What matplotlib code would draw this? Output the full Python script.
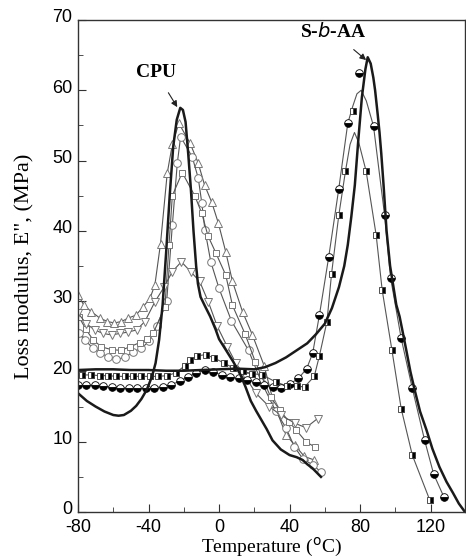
import matplotlib
matplotlib.use("Agg")
import matplotlib.pyplot as plt
import matplotlib.transforms as mtransforms
from matplotlib.ticker import MultipleLocator

plt.rcParams["axes.unicode_minus"] = False

# CPU thick curve
cpu_x = [-80, -75, -70, -65, -60, -57, -54, -50, -47, -44, -41, -38, -36, -34, -32, -30, -28, -26, -24,
         -22, -20.5, -19, -17.5, -16, -14.5, -13, -12, -10.5, -8, -5, -2, 0, 4, 8, 12, 15, 18, 21, 24,
         27, 30.3, 35, 40, 44, 47.4, 50, 53.1, 57.8]
cpu_y = [16.9, 15.8, 15.0, 14.3, 13.8, 13.7, 13.8, 14.4, 15.1, 16.1, 17.4, 19.3, 21.2, 24.5, 29.5, 37.0,
         45.0, 52.0, 55.8, 57.5, 57.2, 55.5, 51.0, 46.0, 40.0, 35.0, 32.5, 30.6, 29.3, 27.8, 26.0, 24.6,
         23.0, 21.4, 19.6, 17.8, 15.8, 14.4, 13.1, 11.8, 10.2, 8.9, 8.1, 7.8, 7.4, 6.8, 6.2, 5.0]

# S-b-AA thick curve
sbaa_x = [-80, -70, -60, -50, -40, -30, -20, -10, 0, 10, 20, 26, 32, 38, 44, 50, 55, 60, 64, 68, 71, 73,
          75, 77, 79, 81, 83, 84.3, 86, 87.5, 88.5, 90, 91, 92, 93.3, 95, 97, 98.6, 100.5, 102.4, 104,
          106.2, 108.5, 110.9, 114, 117.6, 121, 125, 129, 132.7, 136, 139.5]
sbaa_y = [20.2, 20.3, 20.3, 20.2, 20.2, 20.1, 20.1, 20.2, 20.3, 20.4, 20.3, 20.6, 21.2, 22.0, 23.0, 24.0,
          25.3, 26.8, 29.0, 32.0, 35.0, 38.0, 42.0, 46.5, 53.0, 59.0, 63.0, 64.7, 63.8, 61.8, 60.0, 56.5,
          54.0, 51.0, 46.5, 40.0, 35.0, 32.5, 29.5, 27.8, 25.8, 23.0, 20.0, 17.4, 14.3, 11.7, 9.0, 6.4,
          4.3, 2.7, 1.2, 0.0]

# half-filled circles (S-b-AA series)
hc_x = [-80, -75.2, -70.4, -65.6, -60.8, -56, -51.2, -46.4, -41.6, -36.8, -32, -27.2, -22.4, -17.6,
        -12.8, -8, -3.2, 1.6, 6.4, 11.2, 16, 20.8, 25.6, 30.4, 35.2, 40, 45, 49.7, 53.1, 56.9, 62.2,
        67.9, 73, 79.6, 87.6, 93.9, 97.3, 103.3, 109.6, 116.6, 121.7, 127.4]
hc_y = [18.1, 18.1, 18.0, 17.9, 17.8, 17.7, 17.6, 17.6, 17.6, 17.7, 17.8, 18.1, 18.6, 19.2, 19.8, 20.2,
        19.9, 19.5, 19.2, 19.0, 18.8, 18.5, 18.1, 17.8, 17.6, 18.2, 19.0, 20.4, 22.6, 28.0, 36.3, 46.0,
        55.3, 62.5, 54.9, 42.2, 33.3, 24.7, 17.6, 10.2, 5.4, 2.2]
hc_line_x = hc_x[:32] + [73, 75.8, 78.2, 80.6, 83.5, 87.6] + hc_x[35:]
hc_line_y = hc_y[:32] + [55.3, 57.7, 59.5, 60.0, 58.5, 54.9] + hc_y[35:]

# half-filled squares (S-b-AA series)
hs_x = [-77.5, -72.5, -67.7, -63, -58.2, -53.5, -48.7, -44, -39.2, -34.5, -29.5, -24.5, -19.5, -16.5,
        -12.5, -7.6, -2.8, 2.8, 8, 13.3, 18.8, 24.6, 32.2, 38.8, 44, 48.5, 54, 56.9, 61.2, 63.8, 67.9,
        71.7, 75.8, 83.4, 89.1, 92.5, 98, 103.3, 109.6, 119.5]
hs_y = [19.5, 19.5, 19.4, 19.4, 19.3, 19.3, 19.3, 19.3, 19.3, 19.3, 19.4, 19.8, 20.8, 21.6, 22.2, 22.4,
        21.9, 21.2, 20.5, 20.0, 19.7, 19.5, 18.5, 17.9, 17.9, 17.8, 19.3, 22.2, 27.1, 33.9, 42.2, 48.5,
        57.0, 48.5, 39.4, 31.6, 23.1, 14.7, 8.1, 1.7]
hs_line_x = hs_x[:32] + [74.3, 76.8, 79.3] + hs_x[33:]
hs_line_y = hs_y[:32] + [52.3, 54.0, 52.5] + hs_y[33:]

# open markers (CPU series)
tri_x = [-80, -76.6, -72.4, -67.7, -63.3, -59.4, -55.4, -51.4, -47.2, -43, -39.2, -36.4, -33.2, -29.4,
         -26.5, -22.8, -16.5, -11.9, -8.2, -4.2, -0.4, 3.8, 7.6, 13.3, 18.9, 25.6, 31, 37.9, 43, 48.4, 54]
tri_y = [30.9, 29.4, 28.5, 27.6, 27.1, 26.9, 27.1, 27.6, 28.0, 29.2, 30.4, 32.3, 38.2, 48.2, 52.3, 55.3,
         52.5, 49.7, 46.5, 44.1, 41.1, 37.0, 32.8, 28.5, 25.2, 20.8, 15.5, 11.0, 9.5, 7.9, 7.4]

circ_x = [-79.6, -76.2, -71.5, -67.3, -63, -58.2, -53.5, -48.7, -44, -39.7, -35.4, -29.7, -26.5, -23.7,
          -21.8, -15.2, -11.8, -9.8, -8, -4.7, 0, 7, 16.7, 24, 32.2, 37.9, 42.7, 47.4, 53.1, 57.8]
circ_y = [25.4, 24.5, 23.3, 22.6, 22.1, 21.7, 22.0, 22.8, 23.3, 24.3, 26.4, 30.0, 40.8, 49.6, 53.4, 50.5,
          47.5, 44.0, 40.1, 35.6, 31.8, 27.2, 23.0, 18.5, 14.3, 12.0, 9.3, 7.6, 6.7, 5.7]

sq_x = [-79.6, -75.5, -71.5, -66.7, -61, -55.7, -50.6, -45, -41, -37.4, -30.7, -28.4, -26.5, -20.9,
        -13.8, -9.8, -6.3, -1.9, 3.8, 7.6, 14.8, 20.5, 29.4, 34.5, 39.8, 43.6, 49.3, 54.6]
sq_y = [27.8, 26.0, 24.5, 23.5, 23.1, 23.0, 23.5, 24.1, 24.6, 25.4, 29.2, 38.0, 45.0, 48.3, 45.0, 42.5,
        39.3, 36.9, 33.7, 29.4, 25.3, 21.4, 16.3, 14.5, 12.8, 11.7, 10.0, 9.2]

dtri_x = [-80, -75.3, -70.5, -65.8, -61, -56.3, -51.6, -46.8, -42.1, -36.4, -31.2, -26.5, -21.4, -16.1,
          -11, -6.1, -1, 4.7, 9.5, 15, 20.9, 28.4, 35, 43.2, 49.3, 55.9]
dtri_y = [28.3, 26.8, 25.9, 25.4, 25.2, 25.4, 25.6, 25.9, 27.1, 29.9, 32.0, 34.2, 35.6, 34.2, 32.8, 29.9,
          26.4, 23.5, 21.2, 19.2, 16.9, 15.0, 13.8, 12.6, 12.0, 13.3]

fig = plt.figure(figsize=(4.66, 5.6), dpi=100)
ax = fig.add_axes([0.1674, 0.0857, 0.8305, 0.8786])

thin = dict(color="#555555", lw=0.8)
ax.plot(tri_x, tri_y, marker="^", ms=6, mfc="white", mec="#777777", mew=0.7, **thin)
ax.plot(circ_x, circ_y, marker="o", ms=5.5, mfc="white", mec="#777777", mew=0.7, **thin)
ax.plot(sq_x, sq_y, marker="s", ms=5, mfc="white", mec="#777777", mew=0.7, **thin)
ax.plot(dtri_x, dtri_y, marker="v", ms=6, mfc="white", mec="#777777", mew=0.7, **thin)

ax.plot(hc_line_x, hc_line_y, **thin)
ax.plot(hs_line_x, hs_line_y, **thin)
ax.plot(hc_x, hc_y, ls="none", marker="o", ms=5.5, fillstyle="bottom", mfc="black",
        mfcalt="white", mec="black", mew=0.6)
ax.plot(hs_x, hs_y, ls="none", marker="s", ms=5, fillstyle="right", mfc="black",
        mfcalt="white", mec="#333333", mew=0.6)

ax.plot(cpu_x, cpu_y, color="#1a1a1a", lw=1.8)
ax.plot(sbaa_x, sbaa_y, color="#1a1a1a", lw=1.8)

ax.annotate("CPU", xy=(-23.7, 57.6), xytext=(-36, 62.6), ha="center", va="center",
            fontsize=14, fontweight="bold", family="Liberation Serif",
            arrowprops=dict(arrowstyle="-|>", color="#222222", lw=0.8, mutation_scale=9,
                            shrinkA=8, shrinkB=0))
ax.annotate(r"S-$\mathbf{\mathit{b}}$-AA", xy=(83.4, 64.3), xytext=(64.5, 68.3), ha="center", va="center",
            fontsize=14, fontweight="bold", family="Liberation Serif",
            arrowprops=dict(arrowstyle="-|>", color="#222222", lw=0.8, mutation_scale=9,
                            shrinkA=6, shrinkB=0))

ax.set_xlim(-80, 139.5)
ax.set_ylim(0, 70)
ax.xaxis.set_major_locator(MultipleLocator(40))
ax.xaxis.set_minor_locator(MultipleLocator(20))
ax.yaxis.set_major_locator(MultipleLocator(10))
ax.yaxis.set_minor_locator(MultipleLocator(5))
ax.tick_params(which="both", direction="in", color="#333333", labelsize=13)
ax.tick_params(axis="x", pad=5)
ax.tick_params(axis="y", pad=4)
ax.tick_params(which="major", length=6)
ax.tick_params(which="minor", length=3.5)
# nudge y tick labels up a little so "0" clears "-80"
lift = mtransforms.ScaledTranslation(0, 3 / 72, fig.dpi_scale_trans)
for lab in ax.get_yticklabels():
    lab.set_transform(lab.get_transform() + lift)
for lab in ax.get_xticklabels() + ax.get_yticklabels():
    lab.set_family("Liberation Sans")
for s in ax.spines.values():
    s.set_color("#333333")
    s.set_linewidth(1.0)

ax.set_xlabel("Temperature ($^{\\rm o}$C)", family="Liberation Serif", fontsize=14, labelpad=0)
ax.set_ylabel("Loss modulus, E\", (MPa)", family="Liberation Serif", fontsize=16, labelpad=13)

fig.savefig("out.png", dpi=100)
